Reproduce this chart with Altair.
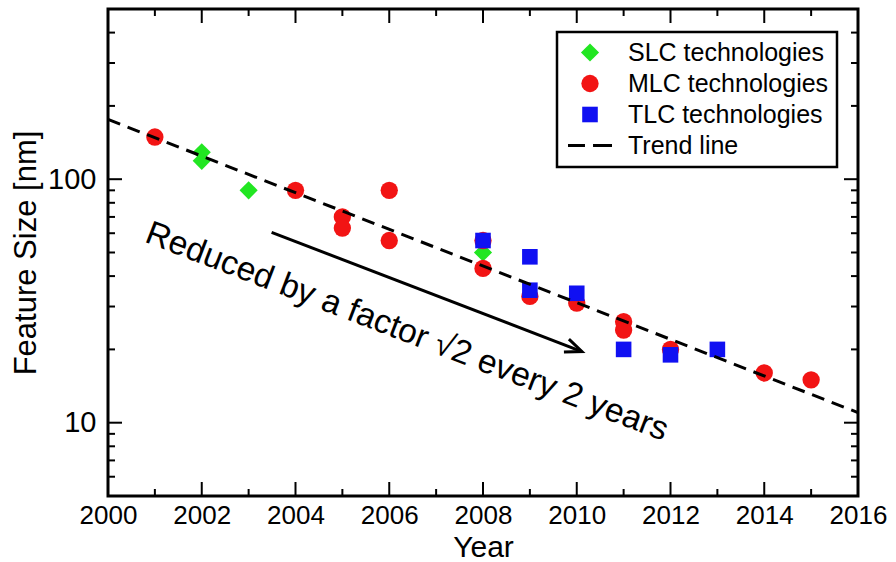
import altair as alt
import pandas as pd

# Feature size [nm] of NAND flash technologies by year of introduction
slc_year = [2002, 2002, 2003, 2008]
slc_nm = [129, 119, 90, 50]
mlc_year = [2001, 2004, 2005, 2005, 2006, 2006, 2008, 2008, 2009, 2010, 2011, 2011, 2012, 2014, 2015]
mlc_nm = [149, 90, 70, 63, 90, 56, 56, 43, 33, 31, 26, 24, 20, 16, 15]
tlc_year = [2008, 2009, 2009, 2010, 2011, 2012, 2013]
tlc_nm = [56, 48, 35, 34, 20, 19, 20]

# Trend: factor sqrt(2) smaller every two years
trend_year = [2000, 2016]
trend_nm = [176, 11]

# Annotation arrow and text
arrow_year = [2003.49, 2010.11]
arrow_nm = [60.5, 19.6]
note_year = [2006.3]
note_nm = [21.6]
note_text = ["Reduced by a factor \u221a2 every 2 years"]

series = ["SLC technologies", "MLC technologies", "TLC technologies", "Trend line"]
series_colors = ["#22e622", "#f21414", "#1010f2", "black"]
# symbol paths in unit coordinates; the last one is a two-dash line sample for the legend
series_shapes = [
    "M0,-1.05L1.05,0L0,1.05L-1.05,0Z",
    "circle",
    "M-0.9,-0.9H0.9V0.9H-0.9Z",
    "M-2.54,-0.17H-0.58V0.17H-2.54Z M0.35,-0.17H2.54V0.17H0.35Z",
]

x_major = list(range(2000, 2017, 2))
x_minor = list(range(2001, 2016, 2))
y_major = [10, 100]
y_minor = [6, 7, 8, 9, 20, 30, 40, 50, 60, 70, 80, 90, 200, 300, 400]

W, H = 750, 487
SANS = "Liberation Sans, Arial, Helvetica, sans-serif"
NARROW = "Liberation Sans Narrow, Arial Narrow, Liberation Sans, sans-serif"

xs = alt.Scale(domain=[2000, 2016], nice=False, zero=False)
ys = alt.Scale(type="log", domain=[5, 500], nice=False)

points = pd.DataFrame({
    "year": slc_year + mlc_year + tlc_year,
    "nm": slc_nm + mlc_nm + tlc_nm,
    "series": [series[0]] * len(slc_year) + [series[1]] * len(mlc_year) + [series[2]] * len(tlc_year),
})

legend = alt.Legend(
    title=None,
    orient="none",
    legendX=449,
    legendY=23,
    padding=8,
    rowPadding=5,
    labelFont=SANS,
    labelFontSize=25,
    labelColor="black",
    labelLimit=400,
    labelOffset=25.5,
    symbolOffset=12.5,
    symbolSize=300,
    symbolOpacity=1,
    symbolStrokeWidth=0,
    strokeColor="black",
    fillColor="white",
)

x_axis = alt.Axis(
    values=x_major, format="d", tickSize=0,
    labelFont=NARROW, labelFontSize=26, labelPadding=27, labelBaseline="alphabetic",
    labelFlush=False, labelColor="black",
    title="Year", titleFont=SANS, titleFontSize=30, titleFontWeight="normal",
    titleY=60, titleBaseline="alphabetic", titleColor="black",
)
y_axis = alt.Axis(
    values=y_major, format="d", tickSize=0,
    labelFont=SANS, labelFontSize=29, labelPadding=12, labelColor="black",
    title="Feature Size [nm]", titleFont=SANS, titleFontSize=31, titleFontWeight="normal",
    titleX=-73, titleY=H / 2, titleBaseline="alphabetic", titleColor="black",
)


def xenc(field):
    return alt.X(field, scale=xs, axis=x_axis)


def yenc(field):
    return alt.Y(field, scale=ys, axis=y_axis)


marks = alt.Chart(points).mark_point(filled=True, size=300, opacity=1).encode(
    x=xenc("year:Q"),
    y=yenc("nm:Q"),
    color=alt.Color("series:N", scale=alt.Scale(domain=series, range=series_colors), legend=legend),
    shape=alt.Shape("series:N", scale=alt.Scale(domain=series, range=series_shapes), legend=legend),
)

trend = alt.Chart(pd.DataFrame({"year": trend_year, "nm": trend_nm})).mark_line(
    color="black", strokeWidth=3, strokeDash=[13, 8]
).encode(x=xenc("year:Q"), y=yenc("nm:Q"))

arrow = alt.Chart(pd.DataFrame({"year": arrow_year, "nm": arrow_nm})).mark_line(
    color="black", strokeWidth=3
).encode(x=xenc("year:Q"), y=yenc("nm:Q"))

head = alt.Chart(pd.DataFrame({"year": arrow_year[1:], "nm": arrow_nm[1:]})).mark_point(
    shape="M-1,-0.42L0,0L-1,0.42", size=1100, filled=False, strokeWidth=3,
    color="black", opacity=1, angle=21, strokeJoin="miter",
).encode(x=xenc("year:Q"), y=yenc("nm:Q"))

note = alt.Chart(pd.DataFrame({"year": note_year, "nm": note_nm, "t": note_text})).mark_text(
    angle=21, font=SANS, fontSize=33.5, color="black", align="center", baseline="alphabetic"
).encode(x=xenc("year:Q"), y=yenc("nm:Q"), text="t:N")


def tick_layer(values, side, length):
    df = pd.DataFrame({"v": values})
    base = alt.Chart(df).mark_rule(color="black", strokeWidth=2)
    if side == "bottom":
        enc = dict(x=xenc("v:Q"), y=alt.value(H), y2=alt.value(H - length))
    elif side == "top":
        enc = dict(x=xenc("v:Q"), y=alt.value(0), y2=alt.value(length))
    elif side == "left":
        enc = dict(y=yenc("v:Q"), x=alt.value(0), x2=alt.value(length))
    else:
        enc = dict(y=yenc("v:Q"), x=alt.value(W), x2=alt.value(W - length))
    return base.encode(**enc)


tick_layers = []
for side in ["bottom", "top"]:
    tick_layers.append(tick_layer(x_major, side, 14))
    tick_layers.append(tick_layer(x_minor, side, 7))
for side in ["left", "right"]:
    tick_layers.append(tick_layer(y_major, side, 14))
    tick_layers.append(tick_layer(y_minor, side, 7))

chart = alt.layer(marks, *tick_layers, trend, arrow, head, note).properties(
    width=W,
    height=H,
    padding={"left": 108, "top": 9, "right": 38, "bottom": 66},
    autosize=alt.AutoSizeParams(type="none"),
    background="white",
).configure_view(
    stroke="black", strokeWidth=3
).configure_axis(
    grid=False, domain=False, ticks=False
).configure_legend(
    strokeWidth=2.5
)

chart.save("out.html", embed_options={"renderer": "svg", "actions": False})
